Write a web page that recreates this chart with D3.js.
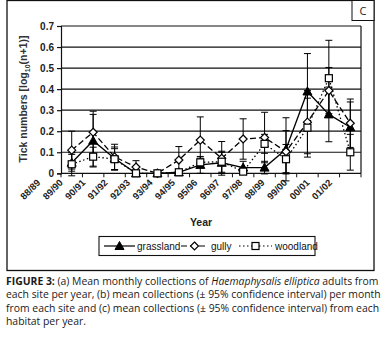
<!DOCTYPE html>
<html>
<head>
<meta charset="utf-8">
<script src="https://cdn.jsdelivr.net/npm/d3@7"></script>
<style>
  body { margin: 0; background: #fff; }
  #wrap { position: relative; width: 384px; height: 339px; overflow: hidden; }
  svg { position: absolute; left: 0; top: 0; }
  .cap { position: absolute; left: 6px; width: 372px; font-family: "Open Sans", sans-serif;
         font-size: 10.4px; color: #1a1a1a; white-space: nowrap; text-align: justify; text-align-last: justify; }
  .cap.last { text-align-last: left; }
  .cap b { font-weight: 700; }
</style>
</head>
<body>
<div id="wrap"><svg id="chart" width="384" height="339"></svg></div>
<script>
'use strict';

// categories
const years = ['88/89','89/90','90/91','91/92','92/93','93/94','94/95','95/96','96/97','97/98','98/99','99/00','00/01','01/02'];

// series means
const grassland = [0.05, 0.155, 0.07, 0, 0, 0.005, 0.04, 0.05, 0.027, 0.027, 0.114, 0.389, 0.28, 0.219];
const gully     = [0.11, 0.195, 0.078, 0.03, 0, 0.063, 0.158, 0.071, 0.163, 0.17, 0.103, 0.243, 0.393, 0.238];
const woodland  = [0.043, 0.079, 0.067, 0, 0, 0.005, 0.052, 0.055, 0.008, 0.14, 0.067, 0.217, 0.452, 0.1];

// 95% confidence half widths
const grasslandErr = [0.04, 0.125, 0.055, 0, 0, 0.01, 0.04, 0.05, 0.03, 0.03, 0.15, 0.18, 0.13, 0.12];
const gullyErr     = [0.09, 0.1, 0.06, 0.03, 0, 0.064, 0.11, 0.08, 0.096, 0.12, 0.1, 0.15, 0.11, 0.115];
const woodlandErr  = [0.055, 0.045, 0.05, 0, 0, 0.01, 0.02, 0.05, 0.01, 0.045, 0.07, 0.14, 0.18, 0.085];

const yTicks = [0, 0.1, 0.2, 0.3, 0.4, 0.5, 0.6, 0.7];

const series = [
  { name: 'grassland', vals: grassland, err: grasslandErr, dash: null,      marker: 'tri' },
  { name: 'gully',     vals: gully,     err: gullyErr,     dash: '6,3',     marker: 'dia' },
  { name: 'woodland',  vals: woodland,  err: woodlandErr,  dash: '1.5,2.5', marker: 'sq' }
];

const svg = d3.select('#chart');
const font = '"Liberation Sans", Arial, sans-serif';

// outer frame and panel letter
svg.append('rect').attr('x', 7).attr('y', 0.5).attr('width', 367).attr('height', 270)
   .attr('fill', 'none').attr('stroke', '#111').attr('stroke-width', 1.3);
svg.append('rect').attr('x', 352).attr('y', 0.5).attr('width', 22).attr('height', 20)
   .attr('fill', '#fff').attr('stroke', '#111').attr('stroke-width', 1);
svg.append('text').attr('x', 363).attr('y', 15).attr('text-anchor', 'middle')
   .style('font-family', '"Open Sans", sans-serif').style('font-size', '11px').attr('fill', '#222').text('C');

const plot = { left: 61, right: 361, top: 26, bottom: 173.3 };

const x = d3.scaleBand().domain(years).range([plot.left, plot.right]);
const y = d3.scaleLinear().domain([0, 0.7]).range([plot.bottom, plot.top]);

// gridlines
svg.append('g').selectAll('line').data(yTicks.slice(1)).enter().append('line')
   .attr('x1', plot.left).attr('x2', plot.right)
   .attr('y1', (d) => y(d)).attr('y2', (d) => y(d))
   .attr('stroke', '#111').attr('stroke-width', 1.2);
svg.append('line').attr('x1', plot.right).attr('x2', plot.right).attr('y1', plot.top).attr('y2', plot.bottom)
   .attr('stroke', '#111').attr('stroke-width', 1.2);

// y axis
const yAxis = d3.axisLeft(y).tickValues(yTicks).tickSize(4).tickPadding(3)
                .tickFormat((d) => d === 0 ? '0' : d3.format('.1f')(d));
svg.append('g').attr('transform', `translate(${plot.left},0)`).call(yAxis)
   .call((g) => g.selectAll('text').style('font-family', font).style('font-size', '10px')
                 .style('font-weight', 'bold').attr('fill', '#222'))
   .call((g) => g.selectAll('line,path').attr('stroke', '#111').attr('stroke-width', 1.2));

// x axis: ticks at category boundaries
svg.append('line').attr('x1', plot.left).attr('x2', plot.right).attr('y1', plot.bottom).attr('y2', plot.bottom)
   .attr('stroke', '#111').attr('stroke-width', 1.2);
svg.append('g').selectAll('line').data(years.concat(['end'])).enter().append('line')
   .attr('x1', (d, i) => plot.left + i * x.step()).attr('x2', (d, i) => plot.left + i * x.step())
   .attr('y1', plot.bottom).attr('y2', plot.bottom + 4)
   .attr('stroke', '#111').attr('stroke-width', 1);
svg.append('g').selectAll('text').data(years).enter().append('text')
   .attr('transform', (d, i) => `translate(${x(d) + x.bandwidth() / 2 - 33 + i},181) rotate(-45)`)
   .attr('text-anchor', 'end').attr('dy', '0.35em')
   .style('font-family', font).style('font-size', '9.5px').style('font-weight', 'bold').attr('fill', '#222')
   .text((d) => d);

svg.append('text').attr('x', 201).attr('y', 226).attr('text-anchor', 'middle')
   .style('font-family', font).style('font-size', '10.5px').style('font-weight', 'bold').attr('fill', '#222')
   .text('Year');

// y title
const yt = svg.append('text').attr('transform', 'translate(27,99) rotate(-90)').attr('text-anchor', 'middle')
   .style('font-family', font).style('font-size', '10.5px').style('font-weight', 'bold').attr('fill', '#333');
yt.append('tspan').text('Tick numbers [log');
yt.append('tspan').attr('dy', 3).style('font-size', '7px').text('10');
yt.append('tspan').attr('dy', -3).text('(n+1)]');

// markers
function drawMarker(g, type, cx, cy) {
  if (type === 'tri') {
    g.append('path').attr('d', `M${cx},${cy - 4.5}L${cx + 4.5},${cy + 3.5}L${cx - 4.5},${cy + 3.5}Z`)
     .attr('fill', '#000').attr('stroke', '#000');
  } else if (type === 'dia') {
    g.append('path').attr('d', `M${cx},${cy - 4}L${cx + 4},${cy}L${cx},${cy + 4}L${cx - 4},${cy}Z`)
     .attr('fill', '#fff').attr('stroke', '#000').attr('stroke-width', 1.2);
  } else {
    g.append('rect').attr('x', cx - 3.5).attr('y', cy - 3.5).attr('width', 7).attr('height', 7)
     .attr('fill', '#fff').attr('stroke', '#000').attr('stroke-width', 1.2);
  }
}

const cx = (i) => x(years[i]) + x.bandwidth() / 2;

// error bars
series.forEach((s) => {
  const g = svg.append('g').attr('class', 'err');
  s.vals.forEach((v, i) => {
    if (!s.err[i]) return;
    const hi = y(v + s.err[i]), lo = y(v - s.err[i]);
    g.append('line').attr('x1', cx(i)).attr('x2', cx(i)).attr('y1', hi).attr('y2', lo)
     .attr('stroke', '#000').attr('stroke-width', 1);
    [hi, lo].forEach((yy) => g.append('line').attr('x1', cx(i) - 3.5).attr('x2', cx(i) + 3.5)
     .attr('y1', yy).attr('y2', yy).attr('stroke', '#000').attr('stroke-width', 1));
  });
});

// lines
const line = d3.line().x((d, i) => cx(i)).y((d) => y(d));
series.forEach((s) => {
  svg.append('path').datum(s.vals).attr('d', line)
     .attr('fill', 'none').attr('stroke', '#000').attr('stroke-width', 1.3)
     .attr('stroke-dasharray', s.dash);
});
series.forEach((s) => {
  const g = svg.append('g');
  s.vals.forEach((v, i) => drawMarker(g, s.marker, cx(i), y(v)));
});

// legend
const lg = svg.append('g');
lg.append('rect').attr('x', 99).attr('y', 236.5).attr('width', 216).attr('height', 19)
  .attr('fill', '#fff').attr('stroke', '#111').attr('stroke-width', 1.1);
const legendItems = [
  { s: series[0], x0: 104, x1: 135, tx: 137 },
  { s: series[1], x0: 181, x1: 208, tx: 211 },
  { s: series[2], x0: 239, x1: 272, tx: 275 }
];
legendItems.forEach((it) => {
  lg.append('line').attr('x1', it.x0).attr('x2', it.x1).attr('y1', 246).attr('y2', 246)
    .attr('stroke', '#000').attr('stroke-width', 1.2).attr('stroke-dasharray', it.s.dash);
  drawMarker(lg, it.s.marker, (it.x0 + it.x1) / 2, 246);
  lg.append('text').attr('x', it.tx).attr('y', 249.5)
    .style('font-family', font).style('font-size', '10px').attr('fill', '#111').text(it.s.name);
});

// caption
const captionLines = [
  '<b>FIGURE 3:</b> (a) Mean monthly collections of <i>Haemaphysalis elliptica</i> adults from',
  'each site per year, (b) mean collections (± 95% confidence interval) per month',
  'from each site and (c) mean collections (± 95% confidence interval) from each',
  'habitat per year.'
];
d3.select('#wrap').selectAll('div.cap').data(captionLines).enter().append('div')
  .attr('class', (d, i) => i === captionLines.length - 1 ? 'cap last' : 'cap')
  .style('top', (d, i) => (274 + i * 13.4) + 'px')
  .html((d) => d);
</script>
</body>
</html>
